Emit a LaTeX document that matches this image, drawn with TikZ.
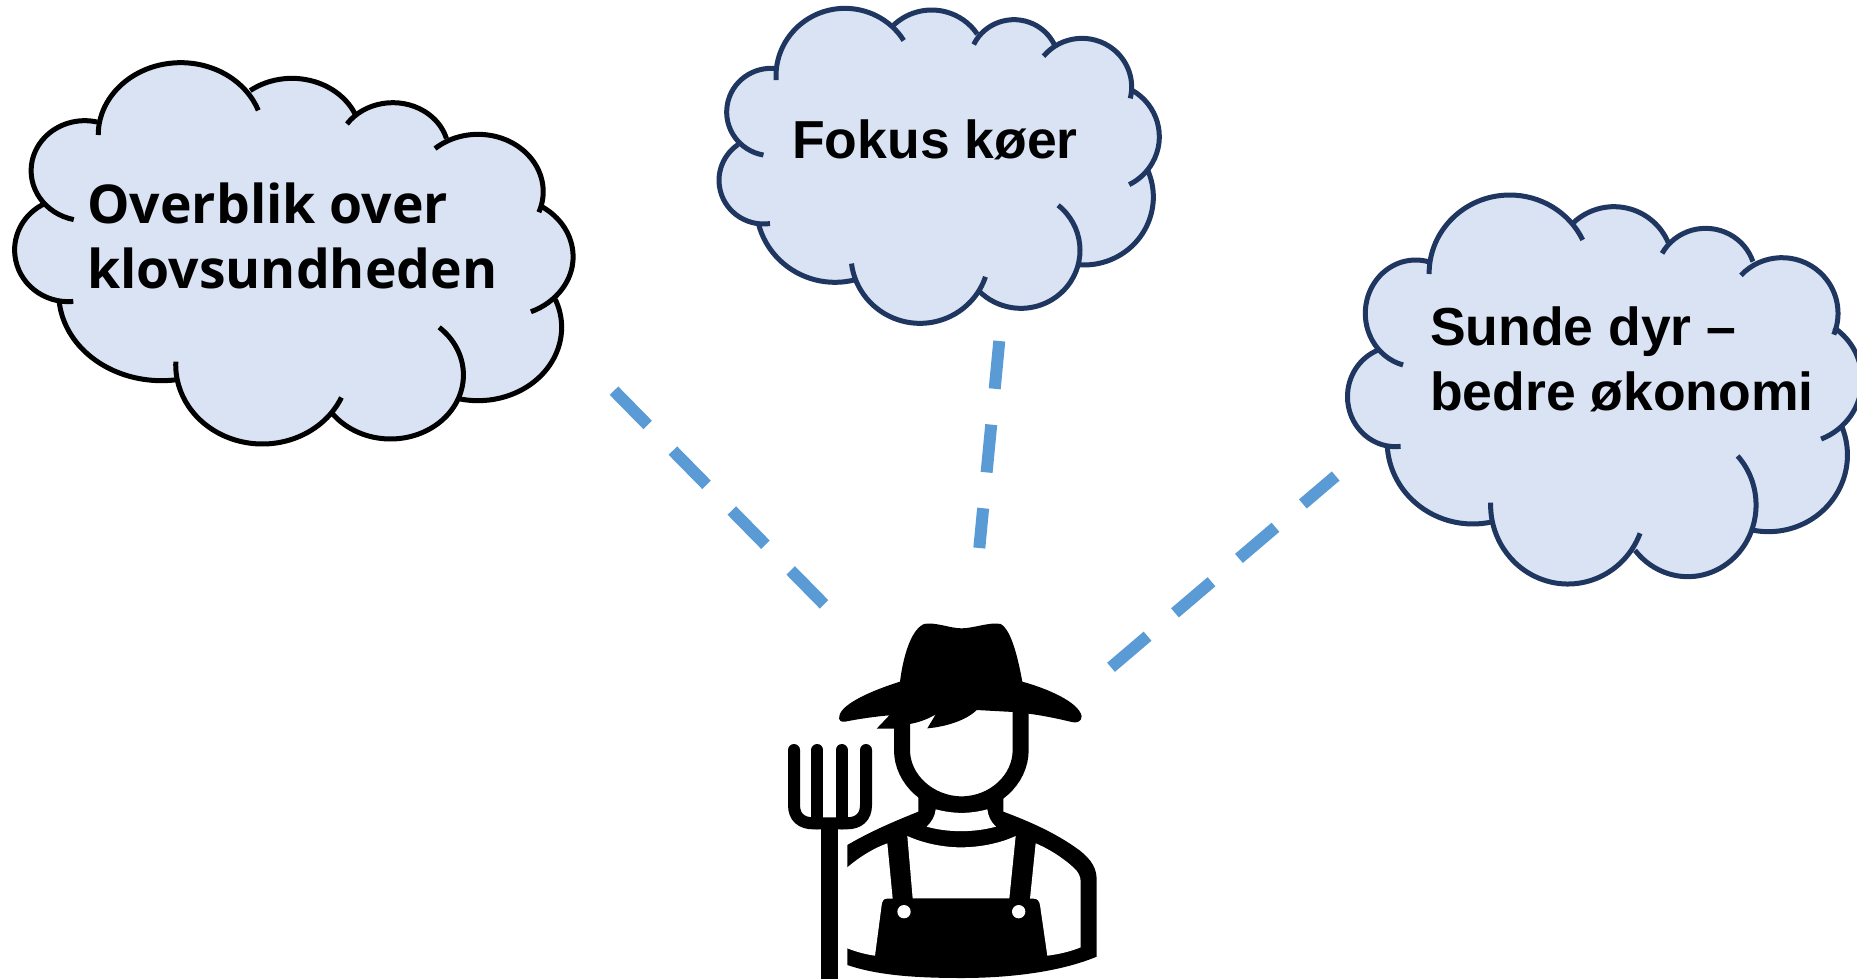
\documentclass[tikz,border=0pt]{standalone}
\usepackage{fontspec}
\setmainfont{Liberation Sans}
\newfontfamily\opensansfont{Open Sans}
\usetikzlibrary{calc}
\definecolor{cloudfill}{HTML}{D9E3F3}
\definecolor{cloudnavy}{HTML}{1F3760}
\definecolor{dashblue}{HTML}{5B9BD5}
\tikzset{
  dashline/.style={draw=dashblue,line width=12pt,dash pattern=on 48pt off 36pt},
  cloudtext/.style={anchor=base west,inner sep=0pt,font=\bfseries\fontsize{53.5}{64}\selectfont,text=black},
  opentext/.style={cloudtext,font=\opensansfont\bfseries\fontsize{53.5}{64}\selectfont},
  cloudedge/.style={line width=5pt,line cap=butt},
  farmerink/.style={fill=black},
  farmerline/.style={draw=black,line cap=round},
}
% \bump{cx}{cy}{rx}{ry}{x1}{y1}{x2}{y2}: one puff, clockwise from (x1,y1) to (x2,y2)
\newcommand\bumpfill[8]{\fill[cloudfill] (#1,#2) ellipse [x radius=#3,y radius=#4];}
\newcommand\bumpstroke[8]{%
  \pgfmathsetmacro\angS{atan2((#6-#2)/#4,(#5-#1)/#3)}%
  \pgfmathsetmacro\angE{atan2((#8-#2)/#4,(#7-#1)/#3)}%
  \pgfmathsetmacro\angE{\angE<\angS ? \angE+360 : \angE}%
  \draw[cloudedge,draw=\cloudline] ($(#1,#2)+(\angS:#3 and #4)$) arc [start angle=\angS,end angle=\angE,x radius=#3,y radius=#4];}
\newcommand\cloudA[1]{%
  #1{475}{285}{215}{217}{257}{285}{680}{210}%
  #1{765}{295}{180}{180}{655}{150}{930}{225}%
  #1{1028}{335}{145}{147}{913}{255}{1170}{295}%
  #1{1250}{455}{170}{172}{1140}{328}{1412}{518}%
  #1{1316}{650}{182}{180}{1420}{490}{1390}{820}%
  #1{1250}{862}{218}{220}{1460}{775}{1205}{1072}%
  #1{1022}{1005}{190}{192}{1155}{855}{870}{1120}%
  #1{688}{975}{226}{237}{893}{1072}{462}{965}%
  #1{425}{760}{268}{262}{470}{1020}{160}{778}%
  #1{182}{630}{140}{155}{195}{785}{118}{495}%
  #1{225}{392}{140}{150}{195}{545}{258}{243}}
\newcommand\cloudB[1]{%
  #1{435}{228}{207}{203}{232}{240}{610}{122}%
  #1{695}{191}{164}{161}{583}{82}{835}{100}%
  #1{942}{190}{134}{131}{820}{133}{1060}{135}%
  #1{1146}{261}{149}{146}{1030}{168}{1290}{295}%
  #1{1214}{410}{164}{161}{1295}{270}{1288}{555}%
  #1{1152}{591}{208}{204}{1350}{510}{1140}{790}%
  #1{963}{751}{177}{174}{1075}{615}{840}{870}%
  #1{660}{766}{207}{204}{855}{830}{460}{790}%
  #1{405}{614}{237}{233}{465}{830}{175}{668}%
  #1{191}{541}{134}{131}{210}{670}{115}{435}%
  #1{213}{336}{133}{131}{190}{467}{230}{205}}
\newcommand\cloudC[1]{%
  #1{535}{280}{240}{235}{295}{282}{745}{183}%
  #1{845}{255}{175}{175}{720}{125}{1010}{185}%
  #1{1118}{290}{148}{145}{988}{220}{1258}{245}%
  #1{1345}{400}{167}{167}{1222}{285}{1502}{465}%
  #1{1393}{600}{190}{190}{1505}{435}{1462}{778}%
  #1{1305}{825}{235}{230}{1535}{730}{1255}{1050}%
  #1{1065}{975}{203}{215}{1213}{828}{903}{1115}%
  #1{708}{975}{230}{237}{928}{1062}{478}{968}%
  #1{425}{785}{255}{247}{485}{1022}{170}{795}%
  #1{195}{650}{143}{150}{210}{798}{145}{505}%
  #1{255}{400}{150}{160}{218}{552}{298}{240}}
\newcommand\cloudshape[6]{% origin x, y; x scale; data; centre polygon; line colour
  \begin{scope}[shift={(#1,#2)},xscale=#3,yscale=1/3]
    #4\bumpfill
    \fill[cloudfill] #5;
    \def\cloudline{#6}%
    #4\bumpstroke
  \end{scope}}
\begin{document}
\begin{tikzpicture}[x=1pt,y=-1pt]
  \useasboundingbox (0,0) rectangle (1857,978);
  \clip (0,0) rectangle (1857,978);
  % clouds
  \cloudshape{-1.5}{40}{0.3836}{\cloudA}{(475,285)--(765,295)--(1028,335)--(1250,455)--(1316,650)--(1250,862)--(1022,1005)--(688,975)--(425,760)--(182,630)--(225,392)--cycle}{black}
  \cloudshape{700}{0}{1/3}{\cloudB}{(435,228)--(695,191)--(942,190)--(1146,261)--(1214,410)--(1152,591)--(963,751)--(660,766)--(405,614)--(191,541)--(213,336)--cycle}{cloudnavy}
  \cloudshape{1330}{180}{0.336}{\cloudC}{(535,280)--(845,255)--(1118,290)--(1345,400)--(1393,600)--(1305,825)--(1065,975)--(708,975)--(425,785)--(195,650)--(255,400)--cycle}{cloudnavy}
  % texts
  \node[opentext] (overblika) at (87,223) {Overblik over};
  \node[opentext] (overblikb) at (87,288) {klovsundheden};
  \node[cloudtext] (fokus) at (792,158) {Fokus køer};
  \node[cloudtext] (sundea) at (1430,345.5) {Sunde dyr –};
  \node[cloudtext] (sundeb) at (1430,410) {bedre økonomi};
  % dashed connectors
  \coordinate (cloudoneend) at (614,390.7);
  \coordinate (farmerleft) at (824,604.3);
  \coordinate (cloudtwoend) at (999.3,341);
  \coordinate (farmertop) at (979.3,548);
  \coordinate (cloudthreeend) at (1335.7,476);
  \coordinate (farmerright) at (1111,667.3);
  \draw[dashline] (cloudoneend) -- (farmerleft);
  \draw[dashline] (cloudtwoend) -- (farmertop);
  \draw[dashline] (farmerright) -- (cloudthreeend);
  % farmer
  \begin{scope}[shift={(770,610)},xscale=1/3,yscale=1/3]
    % pitchfork
    \draw[farmerline,line width=12pt] (72,420) -- (72,585) .. controls (72,622) and (95,640) .. (130,640) -- (230,640) .. controls (265,640) and (288,622) .. (288,585) -- (288,420);
    \draw[farmerline,line width=12pt] (142,420) -- (142,640);
    \draw[farmerline,line width=12pt] (215,420) -- (215,640);
    \fill[farmerink] (153,640) rectangle (205,1110);
    % body silhouette
    \fill[farmerink] (232,705) .. controls (300,665) and (370,635) .. (445,605) -- (445,550) -- (700,550) -- (700,605)
      .. controls (780,635) and (860,670) .. (930,722) .. controls (965,750) and (980,775) .. (980,810)
      -- (980,1040) .. controls (860,1090) and (700,1104) .. (575,1104) .. controls (430,1104) and (320,1095) .. (232,1065) -- cycle;
    % white panels
    \fill[white] (222,779) -- (232,772) .. controls (270,740) and (310,715) .. (352,700) -- (368,866) -- (350,866) .. controls (340,866) and (336,875) .. (335,885) -- (315,1037) .. controls (285,1033) and (258,1025) .. (232,1015) -- (222,1011) -- cycle;
    \fill[white] (412,678) .. controls (460,700) and (520,712) .. (572,712) .. controls (630,712) and (690,700) .. (737,678) -- (718,865) -- (428,865) -- cycle;
    \fill[white] (797,700) .. controls (840,718) and (880,745) .. (910,772) .. controls (925,785) and (932,800) .. (932,815) -- (932,1012) .. controls (900,1025) and (865,1033) .. (832,1037) -- (810,885) .. controls (808,874) and (803,866) .. (792,866) -- (780,866) -- cycle;
    \fill[white] (497,598) .. controls (550,612) and (600,612) .. (652,598) .. controls (655,620) and (662,635) .. (678,650) .. controls (610,668) and (535,668) .. (470,650) .. controls (485,635) and (495,620) .. (497,598) -- cycle;
    \fill[white] (402,905) circle [radius=20];
    \fill[white] (746,905) circle [radius=20];
    % head
    \draw[draw=black,fill=white,line width=16pt] (396,300) -- (396,420) .. controls (396,510) and (480,583) .. (575,583) .. controls (670,583) and (752,510) .. (752,420) -- (752,300);
    % hat with fringe
    \fill[farmerink] (208,318) .. controls (215,280) and (310,240) .. (390,215)
      .. controls (398,150) and (420,60) .. (462,42) .. controls (495,35) and (540,55) .. (575,55)
      .. controls (610,55) and (660,35) .. (692,42) .. controls (725,60) and (745,150) .. (757,215)
      .. controls (830,235) and (925,275) .. (935,318) .. controls (935,335) and (920,340) .. (905,336)
      .. controls (860,325) and (800,312) .. (730,306) -- (620,300)
      .. controls (590,330) and (530,350) .. (472,355) -- (497,313)
      .. controls (470,330) and (440,338) .. (420,342) -- (375,345) -- (375,356) -- (320,356) -- (358,316)
      .. controls (310,320) and (260,328) .. (225,335) .. controls (212,337) and (205,330) .. (208,318) -- cycle;
  \end{scope}
\end{tikzpicture}
\end{document}
